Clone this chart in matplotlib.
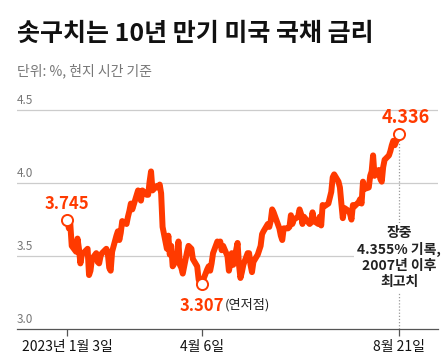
import pandas as pd
import matplotlib.pyplot as plt

plt.rcParams['font.family'] = ['Noto Sans CJK KR', 'DejaVu Sans']

# 10-year US Treasury yield (%), daily close
dates = pd.to_datetime([
    "2023-01-03", "2023-01-04", "2023-01-05", "2023-01-06", "2023-01-09", "2023-01-10",
    "2023-01-11", "2023-01-12", "2023-01-13", "2023-01-17", "2023-01-18", "2023-01-19",
    "2023-01-20", "2023-01-23", "2023-01-24", "2023-01-25", "2023-01-26", "2023-01-27",
    "2023-01-30", "2023-01-31", "2023-02-01", "2023-02-02", "2023-02-03", "2023-02-06",
    "2023-02-07", "2023-02-08", "2023-02-09", "2023-02-10", "2023-02-13", "2023-02-14",
    "2023-02-15", "2023-02-16", "2023-02-17", "2023-02-21", "2023-02-22", "2023-02-23",
    "2023-02-24", "2023-02-27", "2023-02-28", "2023-03-01", "2023-03-02", "2023-03-03",
    "2023-03-06", "2023-03-07", "2023-03-08", "2023-03-09", "2023-03-10", "2023-03-13",
    "2023-03-14", "2023-03-15", "2023-03-16", "2023-03-17", "2023-03-20", "2023-03-21",
    "2023-03-22", "2023-03-23", "2023-03-24", "2023-03-27", "2023-03-28", "2023-03-29",
    "2023-03-30", "2023-03-31", "2023-04-03", "2023-04-04", "2023-04-05", "2023-04-06",
    "2023-04-10", "2023-04-11", "2023-04-12", "2023-04-13", "2023-04-14", "2023-04-17",
    "2023-04-18", "2023-04-19", "2023-04-20", "2023-04-21", "2023-04-24", "2023-04-25",
    "2023-04-26", "2023-04-27", "2023-04-28", "2023-05-01", "2023-05-02", "2023-05-03",
    "2023-05-04", "2023-05-05", "2023-05-08", "2023-05-09", "2023-05-10", "2023-05-11",
    "2023-05-12", "2023-05-15", "2023-05-16", "2023-05-17", "2023-05-18", "2023-05-19",
    "2023-05-22", "2023-05-23", "2023-05-24", "2023-05-25", "2023-05-26", "2023-05-30",
    "2023-05-31", "2023-06-01", "2023-06-02", "2023-06-05", "2023-06-06", "2023-06-07",
    "2023-06-08", "2023-06-09", "2023-06-12", "2023-06-13", "2023-06-14", "2023-06-15",
    "2023-06-16", "2023-06-20", "2023-06-21", "2023-06-22", "2023-06-23", "2023-06-26",
    "2023-06-27", "2023-06-28", "2023-06-29", "2023-06-30", "2023-07-03", "2023-07-05",
    "2023-07-06", "2023-07-07", "2023-07-10", "2023-07-11", "2023-07-12", "2023-07-13",
    "2023-07-14", "2023-07-17", "2023-07-18", "2023-07-19", "2023-07-20", "2023-07-21",
    "2023-07-24", "2023-07-25", "2023-07-26", "2023-07-27", "2023-07-28", "2023-07-31",
    "2023-08-01", "2023-08-02", "2023-08-03", "2023-08-04", "2023-08-07", "2023-08-08",
    "2023-08-09", "2023-08-10", "2023-08-11", "2023-08-14", "2023-08-15", "2023-08-16",
    "2023-08-17", "2023-08-18", "2023-08-21",
])
yields = [
    3.745, 3.69, 3.72, 3.57, 3.53, 3.62,
    3.55, 3.45, 3.51, 3.55, 3.37, 3.40,
    3.48, 3.52, 3.46, 3.45, 3.50, 3.52,
    3.55, 3.52, 3.42, 3.40, 3.53, 3.64,
    3.67, 3.61, 3.66, 3.74, 3.72, 3.77,
    3.81, 3.86, 3.82, 3.95, 3.92, 3.88,
    3.95, 3.92, 3.92, 4.01, 4.08, 3.95,
    3.98, 3.97, 3.99, 3.93, 3.70, 3.55,
    3.64, 3.51, 3.57, 3.43, 3.48, 3.60,
    3.44, 3.42, 3.38, 3.53, 3.57, 3.56,
    3.55, 3.48, 3.43, 3.34, 3.31, 3.307,
    3.41, 3.43, 3.40, 3.45, 3.52, 3.60,
    3.59, 3.60, 3.54, 3.57, 3.50, 3.40,
    3.45, 3.52, 3.44, 3.59, 3.44, 3.35,
    3.39, 3.44, 3.52, 3.52, 3.44, 3.39,
    3.46, 3.51, 3.54, 3.57, 3.65, 3.67,
    3.72, 3.70, 3.74, 3.82, 3.80, 3.69,
    3.64, 3.61, 3.69, 3.69, 3.70, 3.78,
    3.72, 3.75, 3.77, 3.82, 3.79, 3.72,
    3.77, 3.72, 3.73, 3.80, 3.74, 3.72,
    3.77, 3.71, 3.85, 3.84, 3.86, 3.94,
    4.04, 4.06, 4.01, 3.97, 3.86, 3.76,
    3.83, 3.81, 3.79, 3.75, 3.85, 3.84,
    3.87, 3.89, 3.86, 4.01, 3.96, 3.97,
    4.05, 4.08, 4.19, 4.05, 4.09, 4.03,
    4.01, 4.11, 4.16, 4.19, 4.22, 4.26,
    4.29, 4.26, 4.336,
]

tick_dates = pd.to_datetime(["2023-01-03", "2023-04-06", "2023-08-21"])
tick_labels = ["2023년 1월 3일", "4월 6일", "8월 21일"]
y_ticks = [3.0, 3.5, 4.0, 4.5]

red = '#ff3a00'

fig = plt.figure(figsize=(4.46, 3.62), dpi=100)
ax = fig.add_axes([0.038, 0.091, 0.944, 0.645])

for y in y_ticks:
    if y > 3.0:
        ax.axhline(y, color='#cccccc', lw=0.9, zorder=1)
    ax.text(0.0, y + 0.02, f"{y:.1f}", transform=ax.get_yaxis_transform(),
            fontsize=8.5, color='#777777', va='bottom', ha='left')

ax.plot(dates, yields, color=red, lw=4.3, solid_joinstyle='round', zorder=3)

# annotations
first, low, last = dates[0], dates[65], dates[-1]
ax.vlines(last, 3.0, yields[-1], color='#999999', lw=0.9, linestyles=(0, (1, 1.5)), zorder=2)
for d, v in [(first, yields[0]), (low, yields[65]), (last, yields[-1])]:
    ax.plot(d, v, 'o', ms=8, mfc='white', mec=red, mew=1.4, zorder=4)

ax.annotate("3.745", (first, yields[0]), xytext=(0, 5), textcoords='offset points',
            ha='center', va='bottom', fontsize=12, fontweight='bold', color=red)
ax.annotate("4.336", (last, yields[-1]), xytext=(5, 5), textcoords='offset points',
            ha='center', va='bottom', fontsize=13, fontweight='bold', color=red)
ax.annotate("3.307", (low, yields[65]), xytext=(0, -9), textcoords='offset points',
            ha='center', va='top', fontsize=12, fontweight='bold', color=red)
ax.annotate("(연저점)", (low, yields[65]), xytext=(17, -10), textcoords='offset points',
            ha='left', va='top', fontsize=9.5, color='#222222')
ax.text(last, 3.49, "장중\n4.355% 기록,\n2007년 이후\n최고치", ha='center', va='center',
        fontsize=10, fontweight='bold', color='#222222', linespacing=1.2,
        bbox=dict(facecolor='white', edgecolor='none', pad=2), zorder=5)

ax.set_ylim(3.0, 4.6)
ax.set_xlim(pd.Timestamp("2022-11-29"), pd.Timestamp("2023-09-17"))
ax.set_yticks([])
ax.set_xticks(tick_dates)
ax.set_xticklabels(tick_labels, fontsize=10, color='#111111')
ax.tick_params(axis='x', length=5, color='#555555', width=0.9, pad=3)
for s in ['top', 'right', 'left']:
    ax.spines[s].set_visible(False)
ax.spines['bottom'].set_color('#555555')
ax.spines['bottom'].set_linewidth(0.9)

fig.text(0.038, 0.905, "솟구치는 10년 만기 미국 국채 금리", fontsize=18,
         fontweight='bold', color='#111111', va='center', ha='left')
fig.text(0.038, 0.805, "단위: %, 현지 시간 기준", fontsize=10,
         color='#777777', va='center', ha='left')

fig.savefig('out.png', dpi=100)
